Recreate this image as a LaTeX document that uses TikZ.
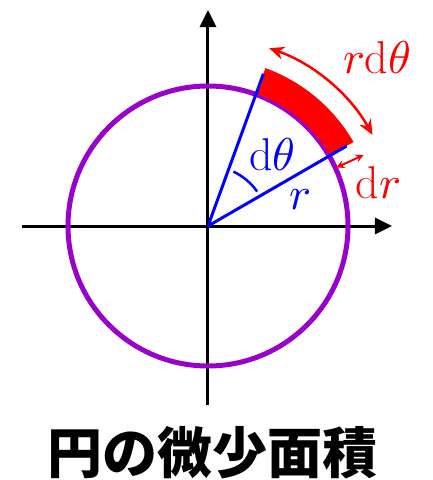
\documentclass[tikz,border=0pt]{standalone}
\usepackage{unicode-math}
\setmathfont{Latin Modern Math}
\newfontfamily\jpfont{Noto Sans CJK JP}
\usetikzlibrary{arrows.meta,positioning}
\definecolor{circpurple}{RGB}{153,0,204}

\begin{document}
\begin{tikzpicture}[
  x=1pt,y=1pt,
  axis/.style={line width=3pt,-{Triangle[length=17pt,width=16pt]}},
  ray/.style={blue,line width=3pt},
  lbl/.style={font=\fontsize{46}{50}\selectfont,inner sep=0pt}
]%
  \useasboundingbox (-208,-254) rectangle (224,226);

  \coordinate (O) at (0,0);
  \coordinate (xl) at (-186,0);
  \coordinate (xr) at (184,0);
  \coordinate (yb) at (0,-179);
  \coordinate (yt) at (0,216);

  % axes and circle
  \draw[axis] (xl) -- (xr);
  \draw[axis] (yb) -- (yt);
  \draw[circpurple,line width=5pt] (O) circle[radius=140];

  % small area element
  \fill[red] (30:141) arc[start angle=30,end angle=70,radius=141]
    -- (70:168) arc[start angle=70,end angle=30,radius=168] -- cycle;

  \coordinate (rA) at (70:162);
  \coordinate (rB) at (30:160);
  \draw[ray] (O) -- (rA);
  \draw[ray] (O) -- (rB);
  \draw[blue,line width=2.5pt] (35:60) arc[start angle=35,end angle=65,radius=60];

  \draw[red,line width=2.5pt,{Stealth[length=15pt,width=13pt]}-{Stealth[length=15pt,width=13pt]}]
    (71:188) arc[start angle=71,end angle=29,radius=188];
  \coordinate (drA) at (24.5:141);
  \coordinate (drB) at (24.5:171);
  \draw[red,line width=2pt,{Stealth[length=8pt,width=8pt]}-{Stealth[length=8pt,width=8pt]}] (drA) -- (drB);

  % labels
  \node[lbl,blue] (dth) at (64,71) {$\mathrm{d}\theta$};
  \node[lbl,blue] (rr) at (92,26) {$r$};
  \node[lbl,red] (rdth) at (169,168) {$r\mathrm{d}\theta$};
  \node[lbl,red] (dr) at (170,43) {$\mathrm{d}r$};

  \node[font=\jpfont\bfseries\fontsize{55}{58}\selectfont,inner sep=0pt] (title) at (5,-227) {円の微少面積};
\end{tikzpicture}
\end{document}
